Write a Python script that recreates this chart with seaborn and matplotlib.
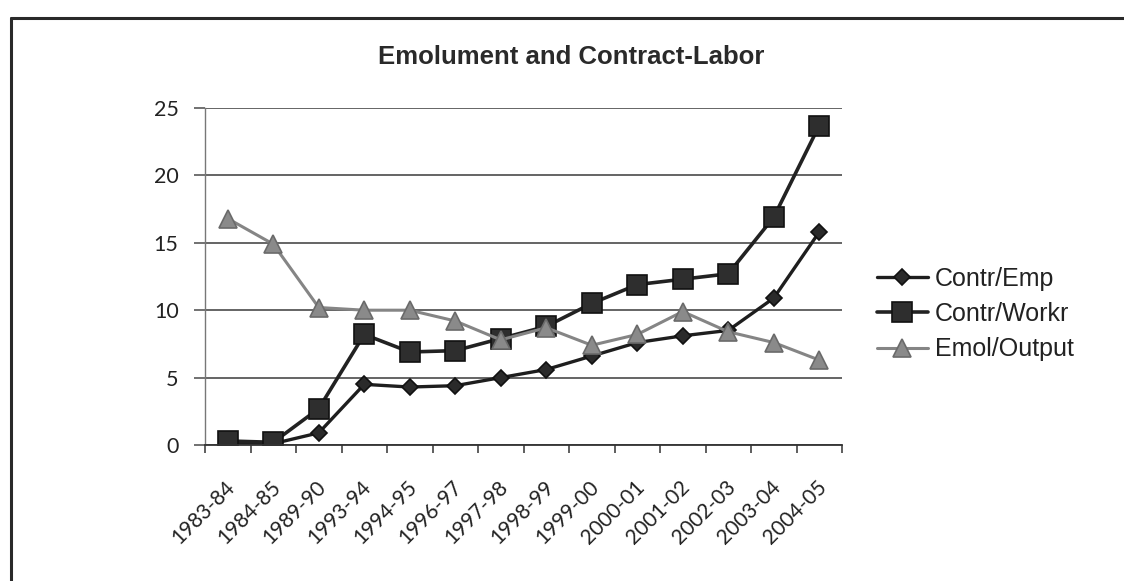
import matplotlib
matplotlib.use("Agg")
import matplotlib.pyplot as plt
from matplotlib.lines import Line2D
from matplotlib.transforms import ScaledTranslation
import numpy as np
import pandas as pd
import seaborn as sns

# Data
years = ["1983-84", "1984-85", "1989-90", "1993-94", "1994-95", "1996-97", "1997-98",
         "1998-99", "1999-00", "2000-01", "2001-02", "2002-03", "2003-04", "2004-05"]
contr_emp = [0.2, 0.1, 0.9, 4.5, 4.3, 4.4, 5.0, 5.6, 6.6, 7.6, 8.1, 8.5, 10.9, 15.8]
contr_workr = [0.3, 0.2, 2.7, 8.2, 6.9, 7.0, 7.9, 8.8, 10.5, 11.9, 12.3, 12.7, 16.9, 23.7]
emol_output = [16.8, 14.9, 10.2, 10.0, 10.0, 9.2, 7.8, 8.7, 7.4, 8.2, 9.9, 8.4, 7.6, 6.3]
series_names = ["Contr/Emp", "Contr/Workr", "Emol/Output"]
y_ticks = [0, 5, 10, 15, 20, 25]

sns.set_theme(style="white")
plt.rcParams["font.family"] = ["Liberation Sans", "DejaVu Sans"]

W, H = 1124, 581
fig = plt.figure(figsize=(W / 100, H / 100), dpi=100)
fig.patch.set_facecolor("white")
ax = fig.add_axes([205 / W, 1 - 445 / H, (842 - 205) / W, (445 - 108) / H])

df = pd.DataFrame({"year": years, "Contr/Emp": contr_emp,
                   "Contr/Workr": contr_workr, "Emol/Output": emol_output})
xpos = np.arange(len(years))
df["pos"] = xpos

styles = {
    "Contr/Emp": dict(color="#1e1e1e", marker="D", markersize=8,
                      markerfacecolor="#2a2a2a", markeredgecolor="#111111", linewidth=2.4),
    "Contr/Workr": dict(color="#222222", marker="s", markersize=14,
                        markerfacecolor="#2e2e2e", markeredgecolor="#111111", linewidth=2.6),
    "Emol/Output": dict(color="#858585", marker="^", markersize=13,
                        markerfacecolor="#8a8a8a", markeredgecolor="#6a6a6a", linewidth=2.2),
}

for name in series_names:
    st = styles[name]
    sns.lineplot(data=df, x="pos", y=name, ax=ax, label=name, legend=False,
                 color=st["color"], linewidth=st["linewidth"], marker=st["marker"],
                 markersize=st["markersize"], markerfacecolor=st["markerfacecolor"],
                 markeredgecolor=st["markeredgecolor"], markeredgewidth=1.2)

ax.set_xlim(-0.5, len(years) - 0.5)
ax.set_ylim(0, 25)
ax.set_xlabel("")
ax.set_ylabel("")

# Gridlines at each y tick
ax.set_yticks(y_ticks)
ax.yaxis.grid(True, color="#4a4a4a", linewidth=1.2)
ax.xaxis.grid(False)
ax.set_axisbelow(True)

# Tick marks sit between categories, labels at category centres
ax.set_xticks(np.arange(-0.5, len(years), 1.0))
ax.set_xticklabels([])
ax.set_xticks(xpos, minor=True)
ax.set_xticklabels(years, minor=True, rotation=45, ha="right", rotation_mode="anchor",
                   fontsize=15, family="Lato", color="#222222")
ax.tick_params(axis="x", which="major", direction="out", length=6, width=1.1,
               color="#333333", bottom=True)
ax.tick_params(axis="x", which="minor", length=0, pad=8, bottom=True)
shift = ScaledTranslation(-0.03, -0.21, fig.dpi_scale_trans)
for lab in ax.get_xticklabels(minor=True):
    lab.set_transform(lab.get_transform() + shift)

ax.tick_params(axis="y", direction="out", length=8, width=1.1, color="#4a4a4a",
               left=True, pad=11)
for lab in ax.get_yticklabels():
    lab.set_family("Lato")
    lab.set_fontsize(15.5)
    lab.set_color("#222222")

for side in ["top", "right"]:
    ax.spines[side].set_visible(False)
ax.spines["left"].set_color("#777777")
ax.spines["left"].set_linewidth(1.0)
ax.spines["bottom"].set_color("#333333")
ax.spines["bottom"].set_linewidth(1.3)

# Title
fig.text(571 / W, 1 - 57 / H, "Emolument and Contract-Labor", ha="center", va="center",
         fontsize=18.5, fontweight="bold", color="#2a2a2a")

# Legend
handles, labels = ax.get_legend_handles_labels()
fig.legend(handles, labels, loc="center left", bbox_to_anchor=(854 / W, 1 - 314 / H),
           frameon=False, fontsize=18, handlelength=2.05, handletextpad=0.28,
           labelspacing=0.45, labelcolor="#222222")

# Outer frame (left and top edges)
fig.add_artist(Line2D([11 / W, 11 / W], [0, 1 - 18 / H], color="#2a2a2a", linewidth=2.2,
                      transform=fig.transFigure))
fig.add_artist(Line2D([11 / W, 1], [1 - 18 / H, 1 - 18 / H], color="#2a2a2a", linewidth=2.2,
                      transform=fig.transFigure))

fig.savefig("out.png", dpi=100, facecolor="white")
